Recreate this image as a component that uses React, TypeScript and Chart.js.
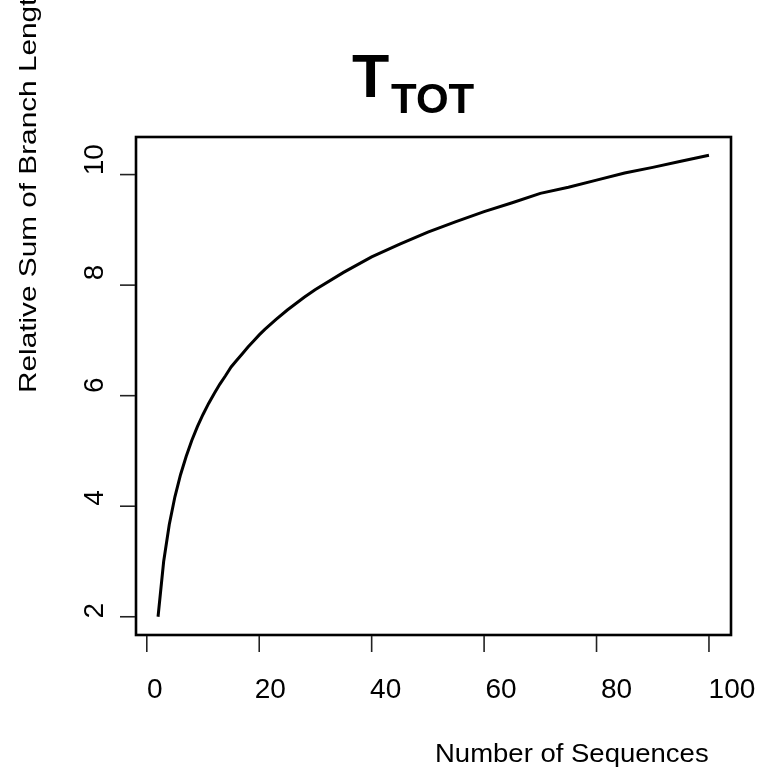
import React, { useEffect, useRef } from "react";
import { Chart, registerables } from "chart.js";

Chart.register(...registerables);

// Number of sequences (x) and relative sum of branch lengths (y)
const nSeq = [2, 3, 4, 5, 6, 7, 8, 9, 10, 11, 12, 13, 14, 15, 16, 17, 18, 19, 20, 21, 23, 25, 28, 30, 35, 40, 45, 50, 55, 60, 65, 70, 75, 80, 85, 90, 95, 100];
const relSum = [2.0, 3.0, 3.67, 4.17, 4.57, 4.9, 5.19, 5.44, 5.66, 5.86, 6.04, 6.21, 6.36, 6.52, 6.64, 6.76, 6.88, 6.99, 7.1, 7.2, 7.38, 7.55, 7.78, 7.92, 8.23, 8.51, 8.74, 8.96, 9.15, 9.33, 9.49, 9.66, 9.77, 9.9, 10.03, 10.13, 10.24, 10.35];

const xTicks = [0, 20, 40, 60, 80, 100];
const yTicks = [2, 4, 6, 8, 10];

const titleMain = "T";
const titleSub = "TOT";
const xTitle = "Number of Sequences";
const yTitle = "Relative Sum of Branch Lengths";

const FONT = '"Liberation Sans", Arial, Helvetica, sans-serif';

const decorPlugin = {
  id: "rDecor",
  afterDraw(chart: any) {
    const ctx = chart.ctx;
    const { left, right, top, bottom } = chart.chartArea;
    const xs = chart.scales.x;
    const ys = chart.scales.y;
    ctx.save();
    // box
    ctx.strokeStyle = "#000";
    ctx.lineWidth = 2.6;
    ctx.strokeRect(left, top, right - left, bottom - top);

    // x ticks
    ctx.lineWidth = 1.6;
    ctx.strokeStyle = "#222";
    ctx.fillStyle = "#000";
    ctx.font = `28px ${FONT}`;
    ctx.textAlign = "center";
    ctx.textBaseline = "alphabetic";
    for (const v of xTicks) {
      const px = xs.getPixelForValue(v);
      ctx.beginPath();
      ctx.moveTo(px, bottom + 1);
      ctx.lineTo(px, bottom + 17);
      ctx.stroke();
      ctx.fillText(String(v), px + 8 + 0.15 * v, bottom + 63);
    }
    // y ticks
    for (const v of yTicks) {
      const py = ys.getPixelForValue(v);
      ctx.beginPath();
      ctx.moveTo(left - 16, py);
      ctx.lineTo(left - 1, py);
      ctx.stroke();
      ctx.save();
      ctx.translate(left - 33, py - 6 - (v - 2) * 1.1);
      ctx.rotate(-Math.PI / 2);
      ctx.fillText(String(v), 0, 0);
      ctx.restore();
    }

    // title
    ctx.textAlign = "left";
    ctx.font = `bold 61px ${FONT}`;
    ctx.fillText(titleMain, 352, 97);
    ctx.font = `bold 42px ${FONT}`;
    ctx.fillText(titleSub, 391, 113);

    // x axis title
    ctx.save();
    ctx.font = `25px ${FONT}`;
    ctx.translate(435, 762);
    ctx.scale(1.1, 1);
    ctx.fillText(xTitle, 0, 0);
    ctx.restore();

    // y axis title
    ctx.save();
    ctx.font = `24px ${FONT}`;
    ctx.translate(36, 393);
    ctx.rotate(-Math.PI / 2);
    ctx.scale(1.24, 1);
    ctx.fillText(yTitle, 0, 0);
    ctx.restore();

    ctx.restore();
  },
};

export default function App() {
  const ref = useRef<HTMLCanvasElement>(null);
  useEffect(() => {
    if (!ref.current) return;
    const points = nSeq.map((n, i) => ({ x: n, y: relSum[i] }));
    const chart = new Chart(ref.current, {
      type: "line",
      data: {
        datasets: [
          {
            data: points,
            borderColor: "#000",
            borderWidth: 3,
            pointRadius: 0,
            tension: 0,
            fill: false,
          },
        ],
      },
      options: {
        animation: false,
        responsive: false,
        events: [],
        layout: { padding: { left: 136, top: 137, right: 41, bottom: 135 } },
        plugins: { legend: { display: false }, tooltip: { enabled: false }, title: { display: false } },
        scales: {
          x: { type: "linear", min: -1.92, max: 103.92, display: false },
          y: { type: "linear", min: 1.67, max: 10.68, display: false },
        },
      },
      plugins: [decorPlugin],
    });
    return () => chart.destroy();
  }, []);
  return (
    <div style={{ position: "fixed", left: 0, top: 0, width: 772, height: 770, background: "#fff" }}>
      <canvas ref={ref} width={772} height={770} style={{ display: "block" }} />
    </div>
  );
}
